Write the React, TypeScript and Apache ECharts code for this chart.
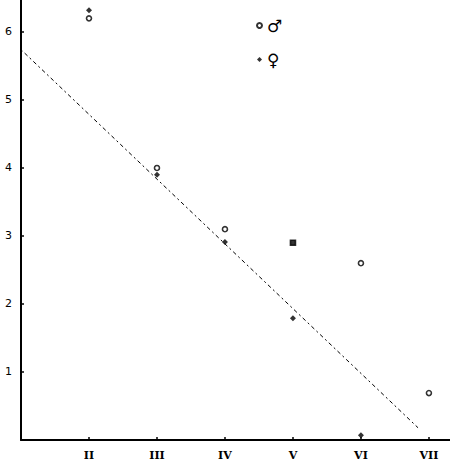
import React, { useEffect, useRef } from "react";
import * as echarts from "echarts";

const romanLabels: Record<number, string> = { 2: "II", 3: "III", 4: "IV", 5: "V", 6: "VI", 7: "VII" };
const yTickLabels = ["", "1", "2", "3", "4", "5", "6"];

// ♂ (open circles)
const maleX = [2, 3, 4, 5, 6, 7];
const maleY = [6.2, 4.0, 3.1, 2.9, 2.6, 0.69];
// ♀ (filled dots)
const femaleX = [2, 3, 4, 5, 6];
const femaleY = [6.32, 3.9, 2.91, 1.79, 0.07];
// regression line end points
const trendX = [1, 6.84];
const trendY = [5.74, 0.18];

export default function App() {
  const ref = useRef<HTMLDivElement>(null);
  useEffect(() => {
    if (!ref.current) return;
    const chart = echarts.init(ref.current, null, { renderer: "svg" });
    chart.setOption({
      animation: false,
      backgroundColor: "#fff",
      grid: { left: 21, right: 0, top: 0, bottom: 28 },
      legend: {
        orient: "vertical",
        left: 251,
        top: 12,
        itemWidth: 5,
        itemHeight: 5,
        itemGap: 17,
        data: ["♂", "♀"],
        textStyle: { fontSize: 17, fontWeight: "bold", color: "#000", fontFamily: "DejaVu Sans" },
      },
      xAxis: {
        type: "value",
        min: 1,
        max: 7.31,
        interval: 1,
        splitLine: { show: false },
        axisLine: { lineStyle: { color: "#000", width: 2 } },
        axisTick: { inside: true, length: 3, lineStyle: { color: "#000", width: 1.5 } },
        axisLabel: {
          margin: 10,
          color: "#000",
          fontSize: 11,
          fontWeight: "bold",
          fontFamily: "DejaVu Serif",
          formatter: (v: number) => romanLabels[Math.round(v)] || "",
          showMaxLabel: false,
        },
      },
      yAxis: {
        type: "value",
        min: 0,
        max: 6.47,
        interval: 1,
        splitLine: { show: false },
        axisLine: { lineStyle: { color: "#000", width: 2 } },
        axisTick: { inside: true, length: 3, lineStyle: { color: "#000", width: 1.5 } },
        axisLabel: {
          margin: 9,
          color: "#000",
          fontSize: 11,
          fontFamily: "DejaVu Sans",
          formatter: (v: number) => yTickLabels[Math.round(v)] ?? "",
          showMaxLabel: false,
        },
      },
      series: [
        {
          name: "trend",
          type: "line",
          data: trendX.map((x, i) => [x, trendY[i]]),
          symbol: "none",
          lineStyle: { color: "#000", width: 1, type: [2, 3, 4, 3] },
          silent: true,
        },
        {
          name: "♂",
          type: "scatter",
          symbol: "circle",
          symbolSize: 5,
          itemStyle: { color: "#fff", borderColor: "#000", borderWidth: 1.6 },
          data: maleX.map((x, i) =>
            x === 5
              ? { value: [x, maleY[i]], symbol: "rect", itemStyle: { color: "#000" } }
              : [x, maleY[i]]
          ),
        },
        {
          name: "♀",
          type: "scatter",
          symbol: "diamond",
          symbolSize: 6,
          itemStyle: { color: "#000" },
          data: femaleX.map((x, i) => [x, femaleY[i]]),
        },
      ],
    });
    return () => chart.dispose();
  }, []);
  return (
    <div
      ref={ref}
      style={{ position: "absolute", left: 0, top: 0, width: 450, height: 468 }}
    />
  );
}
